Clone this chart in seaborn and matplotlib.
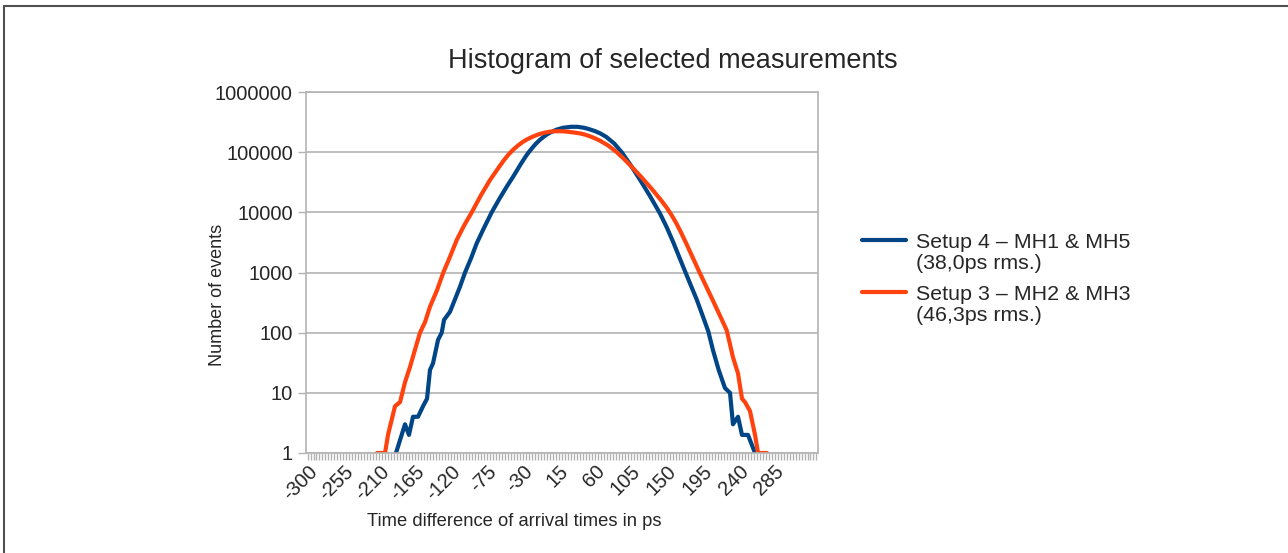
import numpy as np
import pandas as pd
import matplotlib
matplotlib.use("Agg")
import matplotlib.pyplot as plt
from matplotlib.lines import Line2D
from matplotlib.ticker import FixedLocator, MultipleLocator
import seaborn as sns

# values (time in ps, number of events)
setup4_time = [-189.2, -177.9, -172.9, -167.9, -161.6, -155.3, -150.3, -146.6, -142.8,
               -136.5, -131.9, -129.0, -121.5, -109.0, -102.7, -95.0, -88.1, -79.0,
               -69.3, -60.0, -50.5, -42.0, -33.0, -28.0, -23.4, -18.0, -14.0, -9.0,
               -4.7, 0.0, 5.0, 12.0, 20.4, 30.0, 38.0, 46.0, 52.0, 60.0, 66.4, 74.0,
               84.0, 93.5, 104.0, 116.5, 129.0, 141.5, 150.0, 158.2, 164.0, 170.7,
               180.0, 187.5, 195.0, 202.0, 207.9, 215.0, 222.9, 229.2, 232.9, 239.2,
               244.2, 251.7, 260.5]
setup4_events = [1, 3, 2, 4, 4, 6, 8, 24, 31,
                 76, 100, 163, 223, 581, 1000, 1750, 3055, 5500,
                 10000, 16500, 26700, 40000, 63000, 80000, 98000, 120000, 138000, 160000,
                 178000, 198000, 215000, 237000, 255000, 264000, 264000, 255000, 243000, 224000, 206000, 180000,
                 140000, 100000, 63000, 34700, 18600, 9550, 5620, 3160, 2040, 1230,
                 617, 355, 190, 105, 51, 24, 12, 10, 3, 4,
                 2, 2, 1]

setup3_time = [-213.0, -202.9, -199.2, -190.4, -184.1, -177.9, -171.6, -165.4, -159.1,
               -152.8, -146.6, -138.0, -129.9, -121.0, -113.1, -104.0, -94.3, -83.0,
               -71.4, -60.0, -54.0, -48.5, -43.0, -37.0, -31.0, -25.5, -18.0, -10.0,
               -3.0, 3.7, 10.0, 16.3, 22.0, 28.0, 35.0, 41.3, 48.0, 54.0, 60.0, 66.4,
               77.0, 87.3, 97.0, 106.1, 119.0, 131.1, 144.0, 150.0, 156.2, 162.0,
               168.0, 175.0, 182.0, 189.5, 199.0, 208.3, 217.0, 225.1, 232.9, 239.2,
               244.2, 248.0, 254.2, 260.5, 264.3, 275.5]
setup3_events = [1, 1, 2, 6, 7, 15, 27, 52, 100,
                 150, 270, 500, 1000, 1900, 3470, 6000, 10000, 19000,
                 34500, 56900, 73500, 90500, 108000, 127000, 146000, 162000, 181000, 199000,
                 211000, 219000, 222500, 223000, 221000, 217000, 211000, 205000, 195000, 183000, 170000, 155000,
                 128000, 100000, 75700, 57000, 37400, 24600, 15200, 11900, 8900, 6560,
                 4580, 2920, 1830, 1110, 600, 330, 187, 109, 39, 21,
                 8, 7, 5, 2, 1, 1]

series_names = ["Setup 4 – MH1 & MH5", "Setup 3 – MH2 & MH3"]
series_notes = ["(38,0ps rms.)", "(46,3ps rms.)"]
series_colors = ["#004586", "#ff420e"]

x_ticks = list(range(-300, 286, 45))
y_ticks = [1, 10, 100, 1000, 10000, 100000, 1000000]

df = pd.concat([
    pd.DataFrame({"time": setup4_time, "events": setup4_events, "setup": series_names[0]}),
    pd.DataFrame({"time": setup3_time, "events": setup3_events, "setup": series_names[1]}),
])

sns.set_style("white")
plt.rcParams["font.family"] = ["Liberation Sans", "DejaVu Sans"]

fig = plt.figure(figsize=(12.88, 5.53), dpi=100)
ax = fig.add_axes([306 / 1288, 1 - 453 / 553, 512 / 1288, 361 / 553])

sns.lineplot(data=df, x="time", y="events", hue="setup", palette=series_colors,
             estimator=None, sort=False, linewidth=3, legend=False, ax=ax)

ax.set_yscale("log")
ax.set_ylim(1, 1000000)
ax.set_xlim(-301.9, 339.4)
ax.yaxis.set_major_locator(FixedLocator(y_ticks))
ax.yaxis.set_minor_locator(FixedLocator([]))
ax.set_yticklabels([str(v) for v in y_ticks])
ax.set_xticks(x_ticks)
ax.set_xticklabels([str(v) for v in x_ticks], rotation=45, ha="right", rotation_mode="anchor")
ax.xaxis.set_minor_locator(MultipleLocator(3.75))
ax.set_xlabel("")
ax.set_ylabel("")

grey = "#b3b3b3"
ax.grid(axis="y", color=grey, linewidth=1.2)
ax.grid(axis="x", visible=False)
for s in ax.spines.values():
    s.set_color(grey)
    s.set_linewidth(1.2)
ax.tick_params(axis="x", which="both", direction="out", length=5, width=1, color=grey,
               bottom=True, labelsize=14.5, pad=1.5)
ax.tick_params(axis="y", which="both", direction="out", length=6, width=1, color=grey,
               left=True, labelsize=14.5, pad=3.5)

fig.text(673 / 1288, 1 - 61 / 553, "Histogram of selected measurements", fontsize=19.5,
         ha="center", va="center")
fig.text(514 / 1288, 1 - 522 / 553, "Time difference of arrival times in ps", fontsize=13.2,
         ha="center", va="center")
fig.text(218 / 1288, 1 - 295 / 553, "Number of events", fontsize=13,
         rotation=90, ha="center", va="center")

# legend drawn next to the plot area
for i, (name, note, col) in enumerate(zip(series_names, series_notes, series_colors)):
    y_line = 240 + i * 52
    fig.add_artist(Line2D([862 / 1288, 906 / 1288], [1 - y_line / 553, 1 - y_line / 553],
                          color=col, linewidth=3, transform=fig.transFigure))
    fig.text(916 / 1288, 1 - (y_line + 7.5) / 553, name, fontsize=15.4,
             ha="left", va="baseline")
    fig.text(916 / 1288, 1 - (y_line + 29) / 553, note, fontsize=15.4,
             ha="left", va="baseline")

# outer frame of the chart
fig.add_artist(Line2D([4 / 1288, 1], [1 - 6 / 553, 1 - 6 / 553], color="#505050",
                      linewidth=1.5, transform=fig.transFigure))
fig.add_artist(Line2D([4 / 1288, 4 / 1288], [0, 1 - 6 / 553], color="#505050",
                      linewidth=1.5, transform=fig.transFigure))

fig.savefig("out.png", dpi=100)
